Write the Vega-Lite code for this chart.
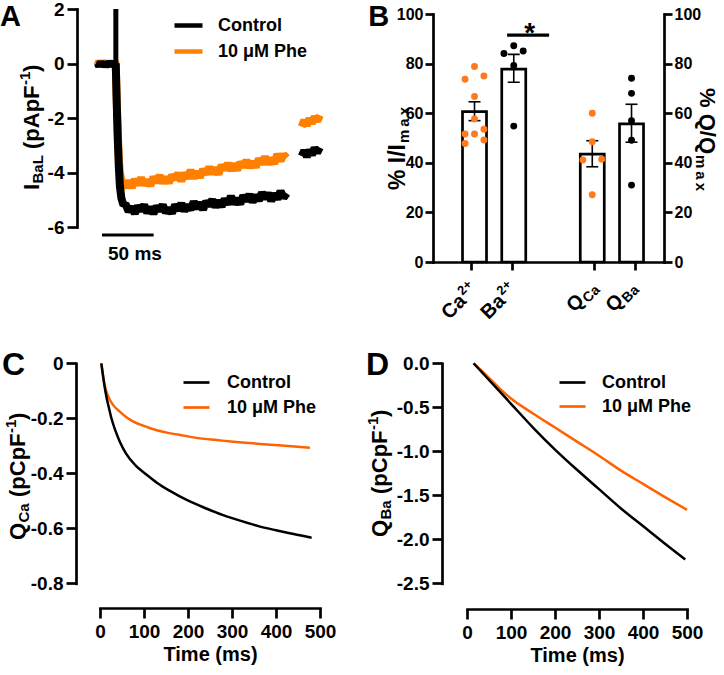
{
  "$schema": "https://vega.github.io/schema/vega-lite/v6.json",
  "width": 724,
  "height": 675,
  "padding": 0,
  "autosize": {"type": "none"},
  "background": "white",
  "config": {
    "view": {"stroke": null},
    "font": "Liberation Sans",
    "axis": {"labelFont": "Liberation Sans", "labelFontSize": 19, "labelFontWeight": "bold", "labelColor": "#000", "domainColor": "#000", "domainWidth": 2.7, "tickColor": "#000", "tickWidth": 2.7, "tickSize": 10, "labelPadding": 3, "titleFont": "Liberation Sans", "titleFontSize": 20, "titleFontWeight": "bold", "titleColor": "#000", "grid": false, "labelFlush": false, "labelOverlap": false, "domainCap": "square"},
    "legend": {"labelFont": "Liberation Sans", "labelFontSize": 18, "labelFontWeight": "bold", "labelColor": "#000", "padding": 0, "symbolType": "stroke"},
    "text": {"font": "Liberation Sans", "fontWeight": "bold", "color": "#000"}
  },
  "datasets": {
    "A_ctrl": [
      {"t":20,"v":0.02,"s":1},{"t":21.5,"v":-0.1,"s":1},{"t":23,"v":0.06,"s":1},{"t":24.5,"v":-0.08,"s":1},{"t":26,"v":0.05,"s":1},{"t":27.5,"v":-0.12,"s":1},{"t":29,"v":0.03,"s":1},{"t":30.5,"v":-0.07,"s":1},{"t":32,"v":0.08,"s":1},{"t":33.5,"v":-0.1,"s":1},{"t":35,"v":0.04,"s":1},{"t":36.5,"v":-0.06,"s":1},{"t":37.5,"v":0,"s":1},
      {"t":38.5,"v":-1.5,"s":1},{"t":39.5,"v":-2.8,"s":1},{"t":40.5,"v":-3.8,"s":1},{"t":41.5,"v":-4.5,"s":1},{"t":43,"v":-4.95,"s":1},{"t":45,"v":-5.2,"s":1},
      {"t":47,"v":-5.16,"s":1},{"t":50,"v":-5.43,"s":1},{"t":53,"v":-5.27,"s":1},{"t":56,"v":-5.5,"s":1},{"t":59,"v":-5.23,"s":1},{"t":62,"v":-5.4,"s":1},{"t":65,"v":-5.19,"s":1},{"t":68,"v":-5.48,"s":1},{"t":71,"v":-5.27,"s":1},{"t":74,"v":-5.51,"s":1},{"t":77,"v":-5.24,"s":1},{"t":80,"v":-5.4,"s":1},{"t":83,"v":-5.19,"s":1},{"t":86,"v":-5.47,"s":1},{"t":89,"v":-5.32,"s":1},{"t":92,"v":-5.49,"s":1},{"t":95,"v":-5.19,"s":1},{"t":98,"v":-5.38,"s":1},{"t":101,"v":-5.14,"s":1},{"t":104,"v":-5.41,"s":1},{"t":107,"v":-5.2,"s":1},{"t":110,"v":-5.36,"s":1},{"t":113,"v":-5.07,"s":1},{"t":116,"v":-5.31,"s":1},{"t":119,"v":-5.11,"s":1},{"t":122,"v":-5.36,"s":1},{"t":125,"v":-5.06,"s":1},{"t":128,"v":-5.21,"s":1},{"t":131,"v":-5.0,"s":1},{"t":134,"v":-5.26,"s":1},{"t":137,"v":-5.04,"s":1},{"t":140,"v":-5.25,"s":1},{"t":143,"v":-4.97,"s":1},{"t":146,"v":-5.16,"s":1},{"t":149,"v":-4.87,"s":1},{"t":152,"v":-5.15,"s":1},{"t":155,"v":-4.97,"s":1},{"t":158,"v":-5.15,"s":1},{"t":161,"v":-4.85,"s":1},{"t":164,"v":-5.04,"s":1},{"t":167,"v":-4.81,"s":1},{"t":170,"v":-5.08,"s":1},{"t":173,"v":-4.84,"s":1},{"t":176,"v":-5.03,"s":1},{"t":179,"v":-4.74,"s":1},{"t":182,"v":-4.95,"s":1},{"t":185,"v":-4.76,"s":1},{"t":188,"v":-5.04,"s":1},{"t":191,"v":-4.78,"s":1},{"t":194,"v":-4.97,"s":1},{"t":197,"v":-4.69,"s":1},{"t":200,"v":-4.92,"s":1},{"t":203,"v":-4.76,"s":1},
      {"t":217.5,"v":-3.4,"s":2},{"t":220,"v":-3.2,"s":2},{"t":222.5,"v":-3.42,"s":2},{"t":225,"v":-3.18,"s":2},{"t":227.5,"v":-3.35,"s":2},{"t":230,"v":-3.1,"s":2},{"t":232.5,"v":-3.27,"s":2},{"t":235,"v":-3.08,"s":2}
    ],
    "A_phe": [
      {"t":20,"v":-0.06,"s":1},{"t":21.5,"v":0.08,"s":1},{"t":23,"v":-0.1,"s":1},{"t":24.5,"v":0.1,"s":1},{"t":26,"v":-0.07,"s":1},{"t":27.5,"v":0.07,"s":1},{"t":29,"v":-0.12,"s":1},{"t":30.5,"v":0.09,"s":1},{"t":32,"v":-0.04,"s":1},{"t":33.5,"v":0.06,"s":1},{"t":35,"v":-0.1,"s":1},{"t":36.5,"v":0.05,"s":1},{"t":37.5,"v":0,"s":1},
      {"t":38.5,"v":-1.4,"s":1},{"t":39.5,"v":-2.6,"s":1},{"t":40.5,"v":-3.5,"s":1},{"t":41.5,"v":-4.0,"s":1},{"t":43,"v":-4.3,"s":1},{"t":45,"v":-4.45,"s":1},
      {"t":47,"v":-4.53,"s":1},{"t":50,"v":-4.31,"s":1},{"t":53,"v":-4.55,"s":1},{"t":56,"v":-4.26,"s":1},{"t":59,"v":-4.44,"s":1},{"t":62,"v":-4.2,"s":1},{"t":65,"v":-4.45,"s":1},{"t":68,"v":-4.28,"s":1},{"t":71,"v":-4.48,"s":1},{"t":74,"v":-4.17,"s":1},{"t":77,"v":-4.36,"s":1},{"t":80,"v":-4.11,"s":1},{"t":83,"v":-4.38,"s":1},{"t":86,"v":-4.18,"s":1},{"t":89,"v":-4.38,"s":1},{"t":92,"v":-4.1,"s":1},{"t":95,"v":-4.24,"s":1},{"t":98,"v":-4.03,"s":1},{"t":101,"v":-4.31,"s":1},{"t":104,"v":-4.03,"s":1},{"t":107,"v":-4.2,"s":1},{"t":110,"v":-3.92,"s":1},{"t":113,"v":-4.2,"s":1},{"t":116,"v":-3.98,"s":1},{"t":119,"v":-4.17,"s":1},{"t":122,"v":-3.89,"s":1},{"t":125,"v":-4.05,"s":1},{"t":128,"v":-3.81,"s":1},{"t":131,"v":-4.04,"s":1},{"t":134,"v":-3.84,"s":1},{"t":137,"v":-4.06,"s":1},{"t":140,"v":-3.74,"s":1},{"t":143,"v":-3.89,"s":1},{"t":146,"v":-3.67,"s":1},{"t":149,"v":-3.92,"s":1},{"t":152,"v":-3.69,"s":1},{"t":155,"v":-3.91,"s":1},{"t":158,"v":-3.63,"s":1},{"t":161,"v":-3.79,"s":1},{"t":164,"v":-3.56,"s":1},{"t":167,"v":-3.81,"s":1},{"t":170,"v":-3.61,"s":1},{"t":173,"v":-3.8,"s":1},{"t":176,"v":-3.5,"s":1},{"t":179,"v":-3.68,"s":1},{"t":182,"v":-3.43,"s":1},{"t":185,"v":-3.68,"s":1},{"t":188,"v":-3.49,"s":1},{"t":191,"v":-3.67,"s":1},{"t":194,"v":-3.33,"s":1},{"t":197,"v":-3.57,"s":1},{"t":200,"v":-3.35,"s":1},{"t":203,"v":-3.47,"s":1},
      {"t":217.5,"v":-2.32,"s":2},{"t":220,"v":-2.08,"s":2},{"t":222.5,"v":-2.28,"s":2},{"t":225,"v":-2.02,"s":2},{"t":227.5,"v":-2.2,"s":2},{"t":230,"v":-1.95,"s":2},{"t":232.5,"v":-2.12,"s":2},{"t":235,"v":-1.9,"s":2}
    ],
    "B_bars": [
      {"pos":0,"mean":60.6,"lo":57.0,"hi":64.6},
      {"pos":1,"mean":77.8,"lo":72.5,"hi":83.7},
      {"pos":3,"mean":43.5,"lo":38.4,"hi":48.9},
      {"pos":4,"mean":55.7,"lo":48.3,"hi":63.6}
    ],
    "B_dots": [
      {"x":0,"v":78.8,"ion":"Ca"},{"x":-0.24,"v":73.7,"ion":"Ca"},{"x":0.24,"v":75.0,"ion":"Ca"},{"x":0,"v":66.7,"ion":"Ca"},{"x":0,"v":57.7,"ion":"Ca"},{"x":-0.24,"v":51.6,"ion":"Ca"},{"x":0,"v":51.6,"ion":"Ca"},{"x":0.24,"v":53.5,"ion":"Ca"},{"x":-0.24,"v":47.8,"ion":"Ca"},{"x":0.24,"v":49.2,"ion":"Ca"},
      {"x":0.75,"v":84.1,"ion":"Ba"},{"x":1,"v":87.2,"ion":"Ba"},{"x":1.24,"v":85.1,"ion":"Ba"},{"x":1,"v":79.2,"ion":"Ba"},{"x":1,"v":54.8,"ion":"Ba"},
      {"x":3,"v":60.0,"ion":"Ca"},{"x":3,"v":48.5,"ion":"Ca"},{"x":2.76,"v":41.1,"ion":"Ca"},{"x":3.24,"v":41.4,"ion":"Ca"},{"x":3,"v":27.1,"ion":"Ca"},
      {"x":4,"v":74.1,"ion":"Ba"},{"x":4,"v":68.0,"ion":"Ba"},{"x":4,"v":57.0,"ion":"Ba"},{"x":4,"v":49.1,"ion":"Ba"},{"x":4,"v":31.0,"ion":"Ba"}
    ],
    "B_lab": [
      {"pos":0,"main":"Ca","sec":"2+","kind":"sup"},
      {"pos":1,"main":"Ba","sec":"2+","kind":"sup"},
      {"pos":3,"main":"Q","sec":"Ca","kind":"sub"},
      {"pos":4,"main":"Q","sec":"Ba","kind":"sub"}
    ],
    "C_ctrl": [
      {"t":3,"v":0},{"t":6,"v":-0.035},{"t":10,"v":-0.08},{"t":15,"v":-0.125},{"t":20,"v":-0.16},{"t":26,"v":-0.2},{"t":35,"v":-0.245},{"t":45,"v":-0.285},{"t":60,"v":-0.33},{"t":80,"v":-0.37},{"t":106,"v":-0.405},{"t":130,"v":-0.435},{"t":160,"v":-0.465},{"t":197,"v":-0.497},{"t":240,"v":-0.527},{"t":280,"v":-0.552},{"t":320,"v":-0.573},{"t":360,"v":-0.592},{"t":400,"v":-0.607},{"t":440,"v":-0.621},{"t":481,"v":-0.634}
    ],
    "C_phe": [
      {"t":3,"v":0},{"t":6,"v":-0.035},{"t":10,"v":-0.075},{"t":15,"v":-0.105},{"t":20,"v":-0.125},{"t":30,"v":-0.152},{"t":45,"v":-0.176},{"t":60,"v":-0.196},{"t":76,"v":-0.212},{"t":95,"v":-0.225},{"t":114,"v":-0.236},{"t":152,"v":-0.252},{"t":190,"v":-0.263},{"t":227,"v":-0.273},{"t":265,"v":-0.279},{"t":303,"v":-0.285},{"t":340,"v":-0.29},{"t":379,"v":-0.295},{"t":420,"v":-0.3},{"t":477,"v":-0.307}
    ],
    "D_ctrl": [
      {"t":15,"v":0},{"t":50,"v":-0.19},{"t":100,"v":-0.46},{"t":150,"v":-0.73},{"t":200,"v":-0.98},{"t":250,"v":-1.21},{"t":300,"v":-1.43},{"t":350,"v":-1.65},{"t":400,"v":-1.85},{"t":450,"v":-2.05},{"t":496,"v":-2.23}
    ],
    "D_phe": [
      {"t":15,"v":0},{"t":30,"v":-0.07},{"t":50,"v":-0.165},{"t":75,"v":-0.29},{"t":100,"v":-0.4},{"t":150,"v":-0.57},{"t":200,"v":-0.73},{"t":250,"v":-0.89},{"t":300,"v":-1.05},{"t":350,"v":-1.22},{"t":400,"v":-1.37},{"t":450,"v":-1.52},{"t":500,"v":-1.665}
    ]
  },
  "layer": [
    {
      "data": {"values": [{}]},
      "mark": {"type": "point", "opacity": 0},
      "encoding": {
        "x": {"datum": 0, "type": "quantitative", "scale": {"domain": [0, 1], "range": [77, 327], "nice": false, "zero": false}, "axis": null},
        "y": {"datum": 0, "type": "quantitative", "scale": {"domain": [-6, 2], "range": [227, 9], "nice": false, "zero": false}, "axis": {"orient": "left", "offset": -77, "values": [-6, -4, -2, 0, 2], "title": null, "labelExpr": "replace(datum.label, '−', '-')"}}
      }
    },
    {
      "data": {"values": [{}]},
      "mark": {"type": "point", "opacity": 0},
      "encoding": {
        "x": {"datum": 0, "type": "quantitative", "scale": {"domain": [-0.93, 4.7], "range": [433, 664], "nice": false, "zero": false}, "axis": {"orient": "bottom", "offset": -413, "values": [0, 1, 3, 4], "labels": false, "title": null, "tickSize": 8}},
        "y": {"datum": 0, "type": "quantitative", "scale": {"domain": [0, 100], "range": [262, 14], "nice": false, "zero": false}, "axis": {"orient": "left", "offset": -433, "values": [0, 20, 40, 60, 80, 100], "title": null, "tickSize": 8, "labelPadding": 2, "labelFontSize": 16}}
      }
    },
    {
      "data": {"values": [{}]},
      "mark": {"type": "point", "opacity": 0},
      "encoding": {
        "x": {"datum": 0, "type": "quantitative", "scale": {"domain": [0, 1], "range": [433, 664], "nice": false, "zero": false}, "axis": null},
        "y": {"datum": 0, "type": "quantitative", "scale": {"domain": [0, 100], "range": [262, 14], "nice": false, "zero": false}, "axis": {"orient": "right", "offset": -60, "values": [0, 20, 40, 60, 80, 100], "title": null, "tickSize": 8, "labelPadding": 2, "labelFontSize": 16}}
      }
    },
    {
      "data": {"values": [{}]},
      "mark": {"type": "point", "opacity": 0},
      "encoding": {
        "x": {"datum": 0, "type": "quantitative", "scale": {"domain": [0, 500], "range": [100, 320], "nice": false, "zero": false}, "axis": {"orient": "bottom", "offset": -67, "values": [0, 100, 200, 300, 400, 500], "title": "Time (ms)", "labelPadding": 4, "titlePadding": 3}},
        "y": {"datum": 0, "type": "quantitative", "scale": {"domain": [-0.8, 0], "range": [583.3, 363.3], "nice": false, "zero": false}, "axis": {"orient": "left", "offset": -76, "values": [-0.8, -0.6, -0.4, -0.2, 0], "title": null, "labelExpr": "datum.value == 0 ? '0' : replace(format(datum.value, '.1f'), '−', '-')"}}
      }
    },
    {
      "data": {"values": [{}]},
      "mark": {"type": "point", "opacity": 0},
      "encoding": {
        "x": {"datum": 0, "type": "quantitative", "scale": {"domain": [0, 500], "range": [467, 687], "nice": false, "zero": false}, "axis": {"orient": "bottom", "offset": -66, "values": [0, 100, 200, 300, 400, 500], "title": "Time (ms)", "labelPadding": 4, "titlePadding": 3}},
        "y": {"datum": 0, "type": "quantitative", "scale": {"domain": [-2.5, 0], "range": [583.3, 363.3], "nice": false, "zero": false}, "axis": {"orient": "left", "offset": -442, "values": [-2.5, -2, -1.5, -1, -0.5, 0], "title": null, "labelExpr": "replace(format(datum.value, '.1f'), '−', '-')"}}
      }
    },
    {
      "data": {"values": [{}]},
      "layer": [
        {
          "data": {"name": "A_phe"},
          "mark": {"type": "line", "strokeWidth": 8, "strokeJoin": "bevel"},
          "encoding": {
            "x": {"field": "t", "type": "quantitative", "scale": {"domain": [0, 242], "range": [77, 327], "nice": false, "zero": false}, "axis": null},
            "y": {"field": "v", "type": "quantitative", "scale": {"domain": [-6, 2], "range": [227, 9], "nice": false, "zero": false}, "axis": null},
            "detail": {"field": "s", "type": "nominal"},
            "color": {"datum": "10 μM Phe", "scale": {"domain": ["Control", "10 μM Phe"], "range": ["#000000", "#FF8000"]}, "legend": {"orient": "none", "legendX": 172, "legendY": 9, "title": null, "symbolSize": 784, "symbolStrokeWidth": 4.5, "labelOffset": 13, "rowPadding": -1}}
          }
        },
        {
          "data": {"name": "A_ctrl"},
          "mark": {"type": "line", "strokeWidth": 8, "strokeJoin": "bevel"},
          "encoding": {
            "x": {"field": "t", "type": "quantitative", "axis": null},
            "y": {"field": "v", "type": "quantitative", "axis": null},
            "detail": {"field": "s", "type": "nominal"},
            "color": {"datum": "Control"}
          }
        },
        {
          "mark": {"type": "rule", "strokeWidth": 5, "color": "#000"},
          "encoding": {"x": {"datum": 37.6, "type": "quantitative", "axis": null}, "y": {"datum": -2, "type": "quantitative", "axis": null}, "y2": {"datum": 2}}
        },
        {
          "mark": {"type": "rule", "strokeWidth": 3, "color": "#000"},
          "encoding": {"x": {"datum": 24.2, "type": "quantitative", "axis": null}, "x2": {"datum": 74.2}, "y": {"datum": -6.294, "type": "quantitative", "axis": null}}
        },
        {
          "mark": {"type": "text", "text": "50 ms", "align": "center", "baseline": "alphabetic", "fontSize": 19},
          "encoding": {"x": {"datum": 56.1, "type": "quantitative", "axis": null}, "y": {"datum": -7.211, "type": "quantitative", "axis": null}}
        },
        {
          "mark": {"type": "text", "text": "A", "align": "left", "baseline": "top", "fontSize": 29},
          "encoding": {"x": {"datum": -74.5, "type": "quantitative", "axis": null}, "y": {"datum": 2.22, "type": "quantitative", "axis": null}}
        },
        {
          "mark": {"type": "text", "text": "I", "angle": 270, "align": "left", "baseline": "alphabetic", "fontSize": 22, "dx": 0},
          "encoding": {"x": {"datum": -36.8, "type": "quantitative", "axis": null}, "y": {"datum": -4.642, "type": "quantitative", "axis": null}}
        },
        {
          "mark": {"type": "text", "text": "BaL", "angle": 270, "align": "left", "baseline": "alphabetic", "fontSize": 15, "dx": 6.5, "dy": 4},
          "encoding": {"x": {"datum": -36.8, "type": "quantitative", "axis": null}, "y": {"datum": -4.642, "type": "quantitative", "axis": null}}
        },
        {
          "mark": {"type": "text", "text": "(pApF", "angle": 270, "align": "left", "baseline": "alphabetic", "fontSize": 22, "dx": 41},
          "encoding": {"x": {"datum": -36.8, "type": "quantitative", "axis": null}, "y": {"datum": -4.642, "type": "quantitative", "axis": null}}
        },
        {
          "mark": {"type": "text", "text": "-1", "angle": 270, "align": "left", "baseline": "alphabetic", "fontSize": 15, "dx": 105, "dy": -9},
          "encoding": {"x": {"datum": -36.8, "type": "quantitative", "axis": null}, "y": {"datum": -4.642, "type": "quantitative", "axis": null}}
        },
        {
          "mark": {"type": "text", "text": ")", "angle": 270, "align": "left", "baseline": "alphabetic", "fontSize": 22, "dx": 118},
          "encoding": {"x": {"datum": -36.8, "type": "quantitative", "axis": null}, "y": {"datum": -4.642, "type": "quantitative", "axis": null}}
        }
      ]
    },
    {
      "data": {"values": [{}]},
      "layer": [
        {
          "data": {"name": "B_bars"},
          "mark": {"type": "bar", "size": 24, "fill": "white", "stroke": "#000", "strokeWidth": 2.7},
          "encoding": {
            "x": {"field": "pos", "type": "quantitative", "scale": {"domain": [-0.93, 4.7], "range": [433, 664], "nice": false, "zero": false}, "axis": null},
            "y": {"field": "mean", "type": "quantitative", "scale": {"domain": [0, 100], "range": [262, 14], "nice": false, "zero": false}, "axis": null}
          }
        },
        {
          "data": {"name": "B_bars"},
          "mark": {"type": "rule", "strokeWidth": 1.6, "color": "#000"},
          "encoding": {"x": {"field": "pos", "type": "quantitative", "axis": null}, "y": {"field": "lo", "type": "quantitative", "axis": null}, "y2": {"field": "hi"}}
        },
        {
          "data": {"name": "B_bars"},
          "mark": {"type": "tick", "orient": "horizontal", "size": 12, "thickness": 1.6, "color": "#000", "opacity": 1},
          "encoding": {"x": {"field": "pos", "type": "quantitative", "axis": null}, "y": {"field": "hi", "type": "quantitative", "axis": null}}
        },
        {
          "data": {"name": "B_bars"},
          "mark": {"type": "tick", "orient": "horizontal", "size": 12, "thickness": 1.6, "color": "#000", "opacity": 1},
          "encoding": {"x": {"field": "pos", "type": "quantitative", "axis": null}, "y": {"field": "lo", "type": "quantitative", "axis": null}}
        },
        {
          "data": {"name": "B_dots"},
          "mark": {"type": "circle", "size": 48, "opacity": 1},
          "encoding": {
            "x": {"field": "x", "type": "quantitative", "axis": null},
            "y": {"field": "v", "type": "quantitative", "axis": null},
            "color": {"field": "ion", "type": "nominal", "scale": {"domain": ["Ca", "Ba"], "range": ["#FF7A1C", "#000000"]}, "legend": null}
          }
        },
        {
          "mark": {"type": "rule", "strokeWidth": 3.3, "color": "#000"},
          "encoding": {"x": {"datum": 0.83, "type": "quantitative", "axis": null}, "x2": {"datum": 1.9}, "y": {"datum": 91.5, "type": "quantitative", "axis": null}}
        },
        {
          "mark": {"type": "text", "text": "*", "align": "center", "baseline": "alphabetic", "fontSize": 28},
          "encoding": {"x": {"datum": 1.405, "type": "quantitative", "axis": null}, "y": {"datum": 88.8, "type": "quantitative", "axis": null}}
        },
        {
          "data": {"name": "B_lab"},
          "mark": {"type": "text", "angle": 315, "align": "right", "baseline": "alphabetic", "fontSize": 20, "dx": -10},
          "encoding": {"x": {"field": "pos", "type": "quantitative", "axis": null}, "y": {"datum": -13.3, "type": "quantitative", "axis": null}, "text": {"field": "main"}}
        },
        {
          "data": {"name": "B_lab"},
          "transform": [{"filter": "datum.kind == 'sup'"}],
          "mark": {"type": "text", "angle": 315, "align": "left", "baseline": "alphabetic", "fontSize": 13, "dx": -9, "dy": -8},
          "encoding": {"x": {"field": "pos", "type": "quantitative", "axis": null}, "y": {"datum": -13.3, "type": "quantitative", "axis": null}, "text": {"field": "sec"}}
        },
        {
          "data": {"name": "B_lab"},
          "transform": [{"filter": "datum.kind == 'sub'"}],
          "mark": {"type": "text", "angle": 315, "align": "left", "baseline": "alphabetic", "fontSize": 14, "dx": -9, "dy": 3},
          "encoding": {"x": {"field": "pos", "type": "quantitative", "axis": null}, "y": {"datum": -13.3, "type": "quantitative", "axis": null}, "text": {"field": "sec"}}
        },
        {
          "mark": {"type": "text", "text": "B", "align": "left", "baseline": "top", "fontSize": 29},
          "encoding": {"x": {"datum": -2.71, "type": "quantitative", "axis": null}, "y": {"datum": 104.4, "type": "quantitative", "axis": null}}
        },
        {
          "mark": {"type": "text", "text": "% I/I", "angle": 270, "align": "left", "baseline": "alphabetic", "fontSize": 23},
          "encoding": {"x": {"datum": -1.76, "type": "quantitative", "axis": null}, "y": {"datum": 29.03, "type": "quantitative", "axis": null}}
        },
        {
          "mark": {"type": "text", "text": "m\u2009a\u2009x", "angle": 270, "align": "left", "baseline": "alphabetic", "fontSize": 15, "dx": 47, "dy": 4},
          "encoding": {"x": {"datum": -1.76, "type": "quantitative", "axis": null}, "y": {"datum": 29.03, "type": "quantitative", "axis": null}}
        },
        {
          "mark": {"type": "text", "text": "% Q/Q", "angle": 90, "align": "left", "baseline": "alphabetic", "fontSize": 22},
          "encoding": {"x": {"datum": 5.753, "type": "quantitative", "axis": null}, "y": {"datum": 70.16, "type": "quantitative", "axis": null}}
        },
        {
          "mark": {"type": "text", "text": "m\u2009a\u2009x", "angle": 90, "align": "left", "baseline": "alphabetic", "fontSize": 15, "dx": 67, "dy": 4},
          "encoding": {"x": {"datum": 5.753, "type": "quantitative", "axis": null}, "y": {"datum": 70.16, "type": "quantitative", "axis": null}}
        }
      ]
    },
    {
      "data": {"values": [{}]},
      "layer": [
        {
          "data": {"name": "C_phe"},
          "mark": {"type": "line", "strokeWidth": 2.5, "interpolate": "monotone"},
          "encoding": {
            "x": {"field": "t", "type": "quantitative", "scale": {"domain": [0, 500], "range": [100, 320], "nice": false, "zero": false}, "axis": null},
            "y": {"field": "v", "type": "quantitative", "scale": {"domain": [-0.8, 0], "range": [583.3, 363.3], "nice": false, "zero": false}, "axis": null},
            "color": {"datum": "10 μM Phe", "scale": {"domain": ["Control", "10 μM Phe"], "range": ["#000000", "#FF6200"]}, "legend": {"orient": "none", "legendX": 182, "legendY": 368, "title": null, "symbolSize": 676, "symbolStrokeWidth": 2.7, "labelOffset": 16, "rowPadding": 1}}
          }
        },
        {
          "data": {"name": "C_ctrl"},
          "mark": {"type": "line", "strokeWidth": 2.5, "interpolate": "monotone"},
          "encoding": {
            "x": {"field": "t", "type": "quantitative", "axis": null},
            "y": {"field": "v", "type": "quantitative", "axis": null},
            "color": {"datum": "Control"}
          }
        },
        {
          "mark": {"type": "text", "text": "C", "align": "left", "baseline": "alphabetic", "fontSize": 32},
          "encoding": {"x": {"datum": -222.7, "type": "quantitative", "axis": null}, "y": {"datum": -0.0425, "type": "quantitative", "axis": null}}
        },
        {
          "mark": {"type": "text", "text": "Q", "angle": 270, "align": "left", "baseline": "alphabetic", "fontSize": 22},
          "encoding": {"x": {"datum": -170.5, "type": "quantitative", "axis": null}, "y": {"datum": -0.6425, "type": "quantitative", "axis": null}}
        },
        {
          "mark": {"type": "text", "text": "Ca", "angle": 270, "align": "left", "baseline": "alphabetic", "fontSize": 15, "dx": 17.5, "dy": 4},
          "encoding": {"x": {"datum": -170.5, "type": "quantitative", "axis": null}, "y": {"datum": -0.6425, "type": "quantitative", "axis": null}}
        },
        {
          "mark": {"type": "text", "text": "(pCpF", "angle": 270, "align": "left", "baseline": "alphabetic", "fontSize": 22, "dx": 43},
          "encoding": {"x": {"datum": -170.5, "type": "quantitative", "axis": null}, "y": {"datum": -0.6425, "type": "quantitative", "axis": null}}
        },
        {
          "mark": {"type": "text", "text": "-1", "angle": 270, "align": "left", "baseline": "alphabetic", "fontSize": 15, "dx": 107, "dy": -9},
          "encoding": {"x": {"datum": -170.5, "type": "quantitative", "axis": null}, "y": {"datum": -0.6425, "type": "quantitative", "axis": null}}
        },
        {
          "mark": {"type": "text", "text": ")", "angle": 270, "align": "left", "baseline": "alphabetic", "fontSize": 22, "dx": 120},
          "encoding": {"x": {"datum": -170.5, "type": "quantitative", "axis": null}, "y": {"datum": -0.6425, "type": "quantitative", "axis": null}}
        }
      ]
    },
    {
      "data": {"values": [{}]},
      "layer": [
        {
          "data": {"name": "D_phe"},
          "mark": {"type": "line", "strokeWidth": 2.5, "interpolate": "monotone"},
          "encoding": {
            "x": {"field": "t", "type": "quantitative", "scale": {"domain": [0, 500], "range": [467, 687], "nice": false, "zero": false}, "axis": null},
            "y": {"field": "v", "type": "quantitative", "scale": {"domain": [-2.5, 0], "range": [583.3, 363.3], "nice": false, "zero": false}, "axis": null},
            "color": {"datum": "10 μM Phe", "scale": {"domain": ["Control", "10 μM Phe"], "range": ["#000000", "#FF6200"]}, "legend": {"orient": "none", "legendX": 558, "legendY": 368, "title": null, "symbolSize": 676, "symbolStrokeWidth": 2.7, "labelOffset": 15, "rowPadding": 0}}
          }
        },
        {
          "data": {"name": "D_ctrl"},
          "mark": {"type": "line", "strokeWidth": 2.5, "interpolate": "monotone"},
          "encoding": {
            "x": {"field": "t", "type": "quantitative", "axis": null},
            "y": {"field": "v", "type": "quantitative", "axis": null},
            "color": {"datum": "Control"}
          }
        },
        {
          "mark": {"type": "text", "text": "D", "align": "left", "baseline": "alphabetic", "fontSize": 32},
          "encoding": {"x": {"datum": -229.5, "type": "quantitative", "axis": null}, "y": {"datum": -0.133, "type": "quantitative", "axis": null}}
        },
        {
          "mark": {"type": "text", "text": "Q", "angle": 270, "align": "left", "baseline": "alphabetic", "fontSize": 22},
          "encoding": {"x": {"datum": -181.8, "type": "quantitative", "axis": null}, "y": {"datum": -1.974, "type": "quantitative", "axis": null}}
        },
        {
          "mark": {"type": "text", "text": "Ba", "angle": 270, "align": "left", "baseline": "alphabetic", "fontSize": 15, "dx": 17.5, "dy": 4},
          "encoding": {"x": {"datum": -181.8, "type": "quantitative", "axis": null}, "y": {"datum": -1.974, "type": "quantitative", "axis": null}}
        },
        {
          "mark": {"type": "text", "text": "(pCpF", "angle": 270, "align": "left", "baseline": "alphabetic", "fontSize": 22, "dx": 43},
          "encoding": {"x": {"datum": -181.8, "type": "quantitative", "axis": null}, "y": {"datum": -1.974, "type": "quantitative", "axis": null}}
        },
        {
          "mark": {"type": "text", "text": "-1", "angle": 270, "align": "left", "baseline": "alphabetic", "fontSize": 15, "dx": 107, "dy": -9},
          "encoding": {"x": {"datum": -181.8, "type": "quantitative", "axis": null}, "y": {"datum": -1.974, "type": "quantitative", "axis": null}}
        },
        {
          "mark": {"type": "text", "text": ")", "angle": 270, "align": "left", "baseline": "alphabetic", "fontSize": 22, "dx": 120},
          "encoding": {"x": {"datum": -181.8, "type": "quantitative", "axis": null}, "y": {"datum": -1.974, "type": "quantitative", "axis": null}}
        }
      ]
    }
  ],
  "resolve": {
    "scale": {"x": "independent", "y": "independent", "color": "independent"},
    "axis": {"x": "independent", "y": "independent"},
    "legend": {"color": "independent"}
  }
}
